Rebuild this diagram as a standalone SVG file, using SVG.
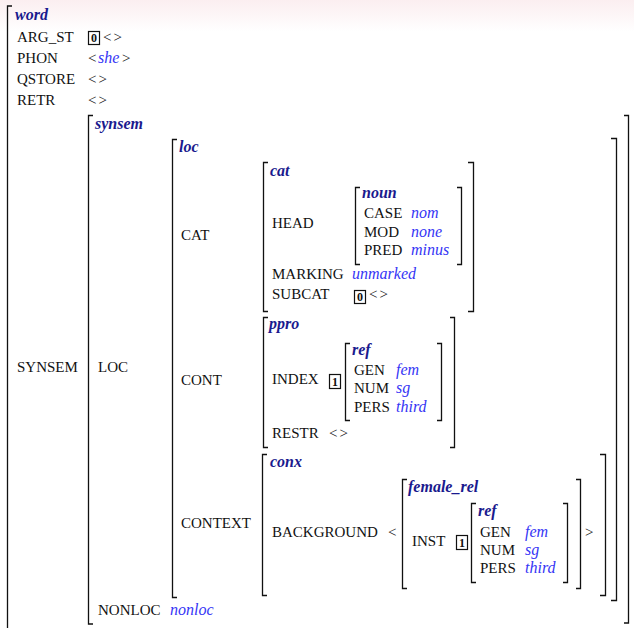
<svg xmlns="http://www.w3.org/2000/svg" width="634" height="628" viewBox="0 0 634 628">
<defs>
<linearGradient id="bg" x1="0" y1="0" x2="0" y2="1">
<stop offset="0" stop-color="#fbeef0"/>
<stop offset="1" stop-color="#ffffff"/>
</linearGradient>
</defs>
<style>
.l{font-family:"Liberation Serif","Times New Roman",serif;font-size:15px;fill:#111}
.a{letter-spacing:2px}
.t{font-family:"Liberation Serif","Times New Roman",serif;font-size:16px;font-weight:bold;font-style:italic;fill:#1a1a8e}
.v{font-family:"Liberation Serif","Times New Roman",serif;font-size:16px;font-style:italic;fill:#3535f5}
.g{font-family:"Liberation Serif","Times New Roman",serif;font-size:12px;font-weight:bold;fill:#111}
.b{fill:none;stroke:#111;stroke-width:1.3}
.box{fill:none;stroke:#111;stroke-width:1.2}
</style>
<rect x="0" y="0" width="634" height="628" fill="#fff"/>
<rect x="0" y="0" width="634" height="32" fill="url(#bg)"/>

<g id="word">
<path class="b" d="M12,6 H7.5 V630"/>
<text class="t" x="15" y="20">word</text>
<text class="l" x="17" y="42">ARG_ST</text>
<rect class="box" x="88.5" y="31.5" width="11" height="13"/>
<text class="g" x="91" y="42">0</text>
<text class="l a" x="103" y="42">&lt;&gt;</text>
<text class="l" x="17" y="63">PHON</text>
<text class="l" x="88" y="63">&lt;</text>
<text class="v" x="98" y="63">she</text>
<text class="l" x="122" y="63">&gt;</text>
<text class="l" x="17" y="84">QSTORE</text>
<text class="l a" x="88" y="84">&lt;&gt;</text>
<text class="l" x="17" y="105">RETR</text>
<text class="l a" x="88" y="105">&lt;&gt;</text>
<text class="l" x="17" y="372">SYNSEM</text>
</g>

<g id="synsem">
<path class="b" d="M93,115.5 H88.5 V624 H93"/>
<path class="b" d="M624,115.5 H628.5 V623 H624"/>
<text class="t" x="95" y="129">synsem</text>
<text class="l" x="98" y="372">LOC</text>
<text class="l" x="98" y="615">NONLOC</text>
<text class="v" x="170" y="615">nonloc</text>
</g>

<g id="loc">
<path class="b" d="M177,139.5 H172.5 V597.5 H177"/>
<path class="b" d="M611,138.5 H616.5 V600.5 H611"/>
<text class="t" x="179" y="152">loc</text>
<text class="l" x="181" y="240">CAT</text>
<text class="l" x="181" y="385">CONT</text>
<text class="l" x="181" y="528">CONTEXT</text>
</g>

<g id="cat">
<path class="b" d="M268,162.5 H263.5 V311.5 H268"/>
<path class="b" d="M468,162.5 H473.5 V311.5 H468"/>
<text class="t" x="270" y="176">cat</text>
<text class="l" x="272" y="228">HEAD</text>
<text class="l" x="272" y="279">MARKING</text>
<text class="v" x="352" y="279">unmarked</text>
<text class="l" x="272" y="299">SUBCAT</text>
<rect class="box" x="354.5" y="290.5" width="11" height="13"/>
<text class="g" x="357" y="301">0</text>
<text class="l a" x="369" y="299">&lt;&gt;</text>
</g>

<g id="noun">
<path class="b" d="M360,187.5 H355.5 V264.5 H360"/>
<path class="b" d="M457,187.5 H461.5 V264.5 H457"/>
<text class="t" x="362" y="198">noun</text>
<text class="l" x="364" y="218">CASE</text>
<text class="v" x="411" y="218">nom</text>
<text class="l" x="364" y="237">MOD</text>
<text class="v" x="411" y="237">none</text>
<text class="l" x="364" y="255">PRED</text>
<text class="v" x="411" y="255">minus</text>
</g>

<g id="ppro">
<path class="b" d="M268,317.5 H263.5 V447.5 H268"/>
<path class="b" d="M450,317.5 H454.5 V447.5 H450"/>
<text class="t" x="269" y="329">ppro</text>
<text class="l" x="272" y="384">INDEX</text>
<rect class="box" x="329.5" y="374.5" width="11" height="14"/>
<text class="g" x="332" y="386">1</text>
<text class="l" x="272" y="438">RESTR</text>
<text class="l a" x="329" y="438">&lt;&gt;</text>
</g>

<g id="ref1">
<path class="b" d="M350,343.5 H345.5 V420.5 H350"/>
<path class="b" d="M437,343.5 H441.5 V420.5 H437"/>
<text class="t" x="352" y="355">ref</text>
<text class="l" x="354" y="375">GEN</text>
<text class="v" x="396" y="375">fem</text>
<text class="l" x="354" y="393">NUM</text>
<text class="v" x="396" y="393">sg</text>
<text class="l" x="354" y="412">PERS</text>
<text class="v" x="396" y="412">third</text>
</g>

<g id="conx">
<path class="b" d="M267,454.5 H262.5 V595.5 H267"/>
<path class="b" d="M600,454.5 H605.5 V595.5 H600"/>
<text class="t" x="270" y="467">conx</text>
<text class="l" x="272" y="537">BACKGROUND</text>
<text class="l" x="388" y="537">&lt;</text>
<text class="l" x="585" y="537">&gt;</text>
</g>

<g id="female_rel">
<path class="b" d="M407,479.5 H402.5 V588.5 H407"/>
<path class="b" d="M576,479.5 H580.5 V588.5 H576"/>
<text class="t" x="408" y="492">female_rel</text>
<text class="l" x="412" y="546">INST</text>
<rect class="box" x="456.5" y="535.5" width="11" height="14"/>
<text class="g" x="459" y="547">1</text>
</g>

<g id="ref2">
<path class="b" d="M476,503.5 H471.5 V582.5 H476"/>
<path class="b" d="M563,503.5 H567.5 V582.5 H563"/>
<text class="t" x="478" y="516">ref</text>
<text class="l" x="480" y="537">GEN</text>
<text class="v" x="525" y="537">fem</text>
<text class="l" x="480" y="555">NUM</text>
<text class="v" x="525" y="555">sg</text>
<text class="l" x="480" y="573">PERS</text>
<text class="v" x="525" y="573">third</text>
</g>
</svg>
